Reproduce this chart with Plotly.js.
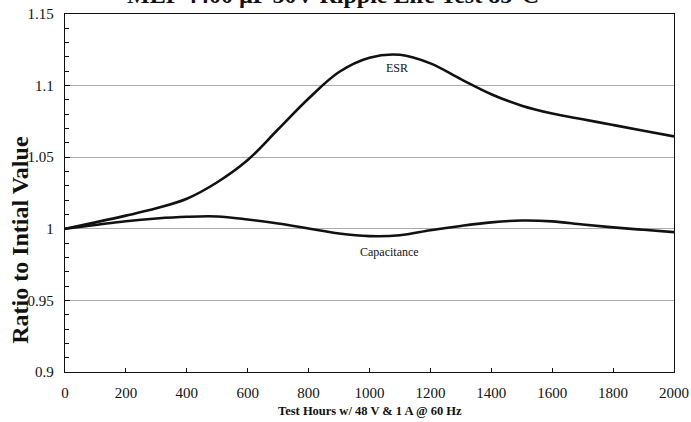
<!DOCTYPE html>
<html>
<head>
<meta charset="utf-8">
<script src="https://cdn.plot.ly/plotly-3.0.1.min.js"></script>
<style>html,body{margin:0;padding:0;background:#fff;}#chart{width:691px;height:422px;}</style>
</head>
<body>
<div id="chart"></div>
<script>
var hours = [0,100,200,300,400,500,600,700,800,900,1000,1100,1200,1300,1400,1500,1600,1700,1800,1900,2000];
var esr = [1.0,1.0045,1.0092,1.0143,1.021,1.0325,1.048,1.0695,1.091,1.1095,1.1195,1.1215,1.1155,1.1045,1.094,1.086,1.0805,1.0765,1.0725,1.0685,1.0645];
var capacitance = [1.0,1.0027,1.0053,1.0072,1.0084,1.0086,1.0065,1.0037,1.0002,0.9967,0.9949,0.9955,0.999,1.002,1.0045,1.0058,1.0052,1.003,1.001,0.9993,0.9977];
var xTicks = [0,200,400,600,800,1000,1200,1400,1600,1800,2000];
var yTicks = [0.9,0.95,1,1.05,1.1,1.15];
var yTickText = ['0.9','0.95','1','1.05','1.1','1.15'];
var titleText = 'MLP 4400 µF 50V Ripple Life Test 85°C';
var yTitle = 'Ratio to Intial Value';
var xTitle = 'Test Hours w/ 48 V &amp; 1 A @ 60 Hz';
var serif = '"Liberation Serif", "DejaVu Serif", serif';

var traces = [
  {x: hours, y: esr, mode: 'lines', line: {color: '#111', width: 2.6, shape: 'spline', smoothing: 1}, hoverinfo: 'none'},
  {x: hours, y: capacitance, mode: 'lines', line: {color: '#111', width: 2.6, shape: 'spline', smoothing: 1}, hoverinfo: 'none'}
];

var layout = {
  width: 691, height: 422,
  margin: {l: 65, r: 17, t: 14, b: 50},
  paper_bgcolor: '#fff', plot_bgcolor: '#fff',
  showlegend: false,
  font: {family: serif, color: '#111', size: 15},
  xaxis: {
    range: [0, 2000], tickvals: xTicks, ticks: 'inside', ticklen: 4, tickcolor: '#111',
    showgrid: false, zeroline: false, showline: true, linecolor: '#111', linewidth: 1.2, mirror: true,
    tickfont: {family: serif, size: 15, color: '#111'}, ticklabelstandoff: 7
  },
  yaxis: {
    range: [0.9, 1.15], tickvals: yTicks, ticktext: yTickText, ticks: 'inside', ticklen: 5, tickcolor: '#111',
    showgrid: true, gridcolor: '#999', gridwidth: 0.8, zeroline: false,
    showline: true, linecolor: '#111', linewidth: 1.2, mirror: true,
    tickfont: {family: serif, size: 15, color: '#111'}, ticklabelstandoff: 7,
    minor: {dtick: 0.01, ticks: 'inside', ticklen: 4, tickcolor: '#111', showgrid: false}
  },
  annotations: [
    {text: '<b>' + titleText + '</b>', xref: 'paper', yref: 'paper', x: 0.44, y: 1.01, xanchor: 'center', yanchor: 'bottom', showarrow: false, font: {family: serif, size: 24, color: '#111'}},
    {text: '<b>' + yTitle + '</b>', xref: 'paper', yref: 'paper', x: -0.074, y: 0.369, xanchor: 'center', yanchor: 'middle', textangle: -90, showarrow: false, font: {family: serif, size: 24, color: '#111'}},
    {text: '<b>' + xTitle + '</b>', xref: 'paper', yref: 'paper', x: 0.5, y: -0.108, xanchor: 'center', yanchor: 'middle', showarrow: false, font: {family: serif, size: 12.5, color: '#111'}},
    {text: 'ESR', xref: 'x', yref: 'y', x: 1090, y: 1.112, showarrow: false, font: {family: serif, size: 12, color: '#111'}},
    {text: 'Capacitance', xref: 'x', yref: 'y', x: 1066, y: 0.9835, showarrow: false, font: {family: serif, size: 12, color: '#111'}}
  ]
};

Plotly.newPlot('chart', traces, layout, {displayModeBar: false, staticPlot: true});
</script>
</body>
</html>
